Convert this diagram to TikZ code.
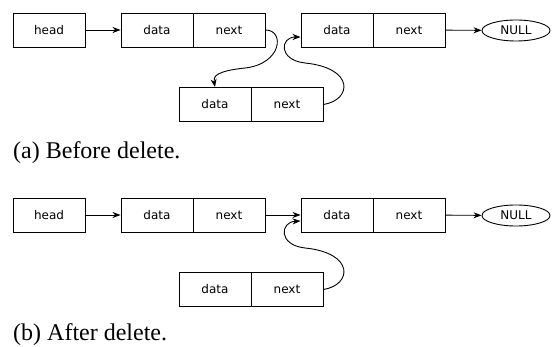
\documentclass[tikz,border=0pt]{standalone}
\usepackage{fontspec}
\setmainfont{Liberation Serif}
\newfontfamily\boxfont{DejaVu Sans}
\usetikzlibrary{arrows.meta}
\tikzset{
  cell/.style={draw, line width=0.9pt, rectangle, minimum width=72pt, minimum height=34pt,
    inner sep=0pt, font=\boxfont\fontsize{12}{14}\selectfont},
  nullnode/.style={draw, line width=0.9pt, ellipse, minimum width=68pt, minimum height=21pt,
    inner sep=0pt, font=\boxfont\fontsize{12}{14}\selectfont},
  arr/.style={line width=0.9pt, -{Stealth[length=8pt,width=6pt,inset=2.5pt]}},
  caption/.style={anchor=base west, inner sep=0pt, font=\fontsize{24}{27}\selectfont}
}
\usetikzlibrary{shapes.geometric}
\begin{document}
\begin{tikzpicture}[x=1pt,y=-1pt]
\useasboundingbox (0,0) rectangle (555,347);

% ---- (a) before delete ----
\node[cell] (ha) at (49,30) {head};
\node[cell] (da1) at (157,30) {data};
\node[cell] (na1) at (229,30) {next};
\node[cell] (da2) at (337,30) {data};
\node[cell] (na2) at (409,30) {next};
\node[nullnode] (nula) at (516,30.5) {NULL};
\node[cell] (dam) at (215,104.5) {data};
\node[cell] (nam) at (287,104.5) {next};

\draw[arr] (ha) -- (da1);
\draw[arr] (na2) -- (nula);
\draw[arr] (na1.east) .. controls (285,30) and (282,64) .. (245,68)
  .. controls (217,71) and (213,76) .. (dam.north);
\draw[arr] (nam.east) .. controls (352,100) and (355,68) .. (305,63)
  .. controls (278,60) and (280,37) .. ([yshift=-7pt]da2.west);

\node[caption] (capa) at (13,159) {(a) Before delete.};

% ---- (b) after delete ----
\begin{scope}[shift={(0,185)}]
\node[cell] (hb) at (49,30) {head};
\node[cell] (db1) at (157,30) {data};
\node[cell] (nb1) at (229,30) {next};
\node[cell] (db2) at (337,30) {data};
\node[cell] (nb2) at (409,30) {next};
\node[nullnode] (nulb) at (516,30.5) {NULL};
\node[cell] (dbm) at (215,104.5) {data};
\node[cell] (nbm) at (287,104.5) {next};

\draw[arr] (hb) -- (db1);
\draw[arr] (nb1) -- (db2);
\draw[arr] (nb2) -- (nulb);
\draw[arr] (nbm.east) .. controls (352,100) and (355,68) .. (305,63)
  .. controls (278,60) and (280,37) .. ([yshift=-6pt]db2.west);
\end{scope}

\node[caption] (capb) at (13,341) {(b) After delete.};
\end{tikzpicture}
\end{document}
